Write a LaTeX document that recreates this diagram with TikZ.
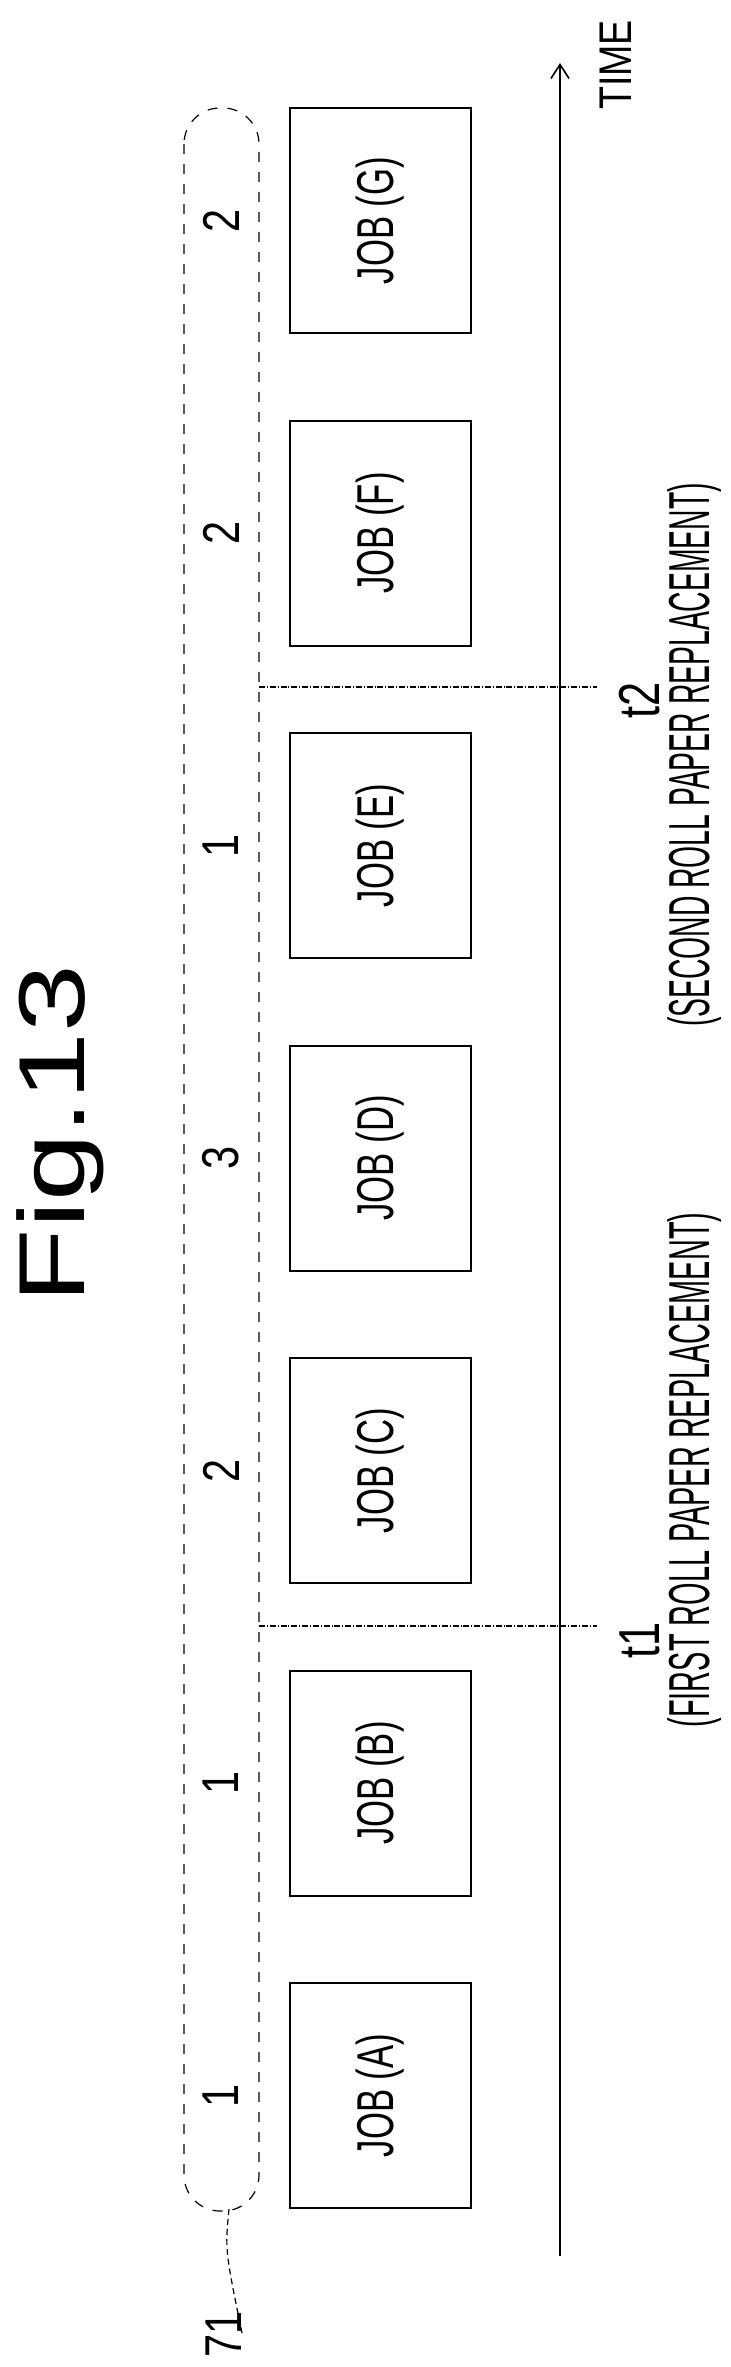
\documentclass[tikz,border=0pt]{standalone}
\usepackage{fontspec}
\setmainfont{Liberation Sans}
\usepackage{graphicx}
\usetikzlibrary{arrows.meta}

\newcommand{\narrow}[2][0.67]{\scalebox{#1}[1]{#2}}

\tikzset{
	job/.style={draw, line width=1bp, minimum width=90.5bp, minimum height=112.5bp, inner sep=0pt, font=\fontsize{26}{26}\selectfont},
	cnt/.style={inner sep=0pt, font=\fontsize{26}{26}\selectfont},
	lbl/.style={inner sep=0pt, font=\fontsize{29}{29}\selectfont},
	sep/.style={densely dash dot, line width=0.6bp}
}

\begin{document}
\begin{tikzpicture}[x=0.5bp, y=-0.5bp]
	\useasboundingbox (0,0) rectangle (731,2367);
	%\draw[help lines] (0,0) grid[step=100] (731,2367);
	\node (fig) at (60,1134) {\rotatebox{90}{\narrow[1.3]{\fontsize{47}{47}\selectfont Fig.13}}};
	% group of counts
	\draw [dashed, line width=0.6bp, dash pattern=on 5bp off 5bp, rounded corners=18bp] (184,108) rectangle (259,2211);
	% jobs
	\foreach \j/\n [count=\k from 0] in {G/2,F/2,E/1,D/3,C/2,B/1,A/1} {
		\node[job] (job\j) at (380.5,220.5+312.5*\k) {\rotatebox{90}{\narrow{JOB (\j)}}};
		\node[cnt] (cnt\j) at (221,220.5+312.5*\k) {\rotatebox{90}{\narrow[0.8]{\n}}};
	}
	% time axis
	\coordinate (tstart) at (560,2256);
	\coordinate (tend) at (560,63);
	\draw [line width=0.8bp, -{Straight Barb[length=7bp,width=9bp]}] (tstart) -- (tend);
	\node[cnt, font=\fontsize{23}{23}\selectfont] (time) at (616,65) {\rotatebox{90}{\narrow[0.82]{TIME}}};
	% replacement times
	\coordinate (t1a) at (259,1626);
	\coordinate (t1b) at (597,1626);
	\coordinate (t2a) at (259,687);
	\coordinate (t2b) at (597,687);
	\draw [sep] (t1a) -- (t1b);
	\draw [sep] (t2a) -- (t2b);
	\node[lbl] (t1) at (640,1640) {\rotatebox{90}{\narrow[0.75]{t1}}};
	\node[lbl] (t2) at (640,700) {\rotatebox{90}{\narrow[0.75]{t2}}};
	\node[lbl] (r1) at (695,1470) {\rotatebox{90}{\narrow[0.5]{(FIRST ROLL PAPER REPLACEMENT)}}};
	\node[lbl] (r2) at (695,755) {\rotatebox{90}{\narrow[0.49]{(SECOND ROLL PAPER REPLACEMENT)}}};
	% reference sign
	\coordinate (pill) at (229,2209);
	\node[cnt] (ref) at (224,2334) {\rotatebox{90}{\narrow[0.8]{71}}};
	\draw [densely dashed, line width=0.6bp] (pill) .. controls (225,2250) .. (ref.east);
\end{tikzpicture}
\end{document}
